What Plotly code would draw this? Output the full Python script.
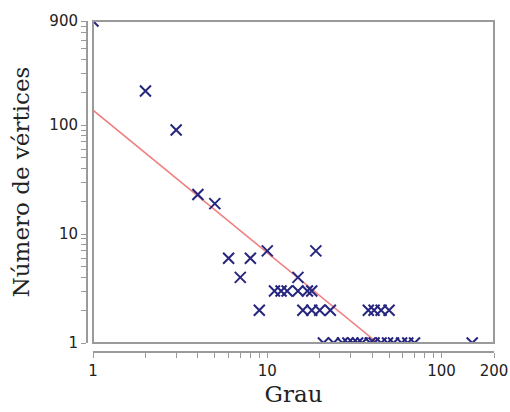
import plotly.graph_objects as go
import math

# Data (degree vs number of vertices)
grau = [1, 2, 3, 4, 5, 6, 7, 8, 9, 10, 19, 15,
        11, 12, 13, 15, 17, 18,
        16, 18, 20, 23, 38, 41, 45, 50,
        21, 24, 27, 29, 31, 33, 35, 39, 41, 45, 49, 53, 59, 64, 70, 150]
vertices = [900, 205, 90, 23, 19, 6, 4, 6, 2, 7, 7, 4,
            3, 3, 3, 3, 3, 3,
            2, 2, 2, 2, 2, 2, 2, 2,
            1, 1, 1, 1, 1, 1, 1, 1, 1, 1, 1, 1, 1, 1, 1, 1]

# Fitted power-law line
fit_x = [1, 43]
fit_y = [137, 1]

x_tick_vals = [1, 2, 3, 4, 5, 6, 7, 8, 9, 10, 20, 30, 40, 50, 60, 70, 80, 90, 100, 200]
x_tick_text = ["1", "", "", "", "", "", "", "", "", "10", "", "", "", "", "", "", "", "", "100", "200"]
y_tick_vals = [1, 2, 3, 4, 5, 6, 7, 8, 9, 10, 20, 30, 40, 50, 60, 70, 80, 90, 100,
               200, 300, 400, 500, 600, 700, 800, 900]
y_tick_text = ["1", "", "", "", "", "", "", "", "", "10", "", "", "", "", "", "", "", "", "100",
               "", "", "", "", "", "", "", "900"]

navy = "#26267f"
grey = "#9a9a9a"

fig = go.Figure()
fig.add_trace(go.Scatter(x=fit_x, y=fit_y, mode="lines",
                         line=dict(color="#f08080", width=1.6), showlegend=False))
fig.add_trace(go.Scatter(x=grau, y=vertices, mode="markers",
                         marker=dict(symbol="x-thin", size=11,
                                     line=dict(width=2, color=navy)),
                         showlegend=False))

fig.add_shape(type="rect", xref="x domain", yref="y domain", x0=0, x1=1, y0=0, y1=1,
              line=dict(color=grey, width=2), layer="above")

tick_font = dict(family="DejaVu Sans", size=15, color="#222")
title_font = dict(family="DejaVu Serif", size=23, color="#222")

fig.update_layout(
    width=510, height=412,
    margin=dict(l=87, r=16, t=21, b=60, autoexpand=False),
    paper_bgcolor="white", plot_bgcolor="white",
    xaxis=dict(type="log", range=[0, math.log10(200)], domain=[6/407, 1],
               anchor="free", position=0, automargin=False,
               showline=True, linecolor=grey, linewidth=2,
               ticks="outside", ticklen=5, tickcolor=grey, tickwidth=1,
               tickvals=x_tick_vals, ticktext=x_tick_text, tickfont=tick_font,
               showgrid=False, zeroline=False,
               title=dict(text="Grau", font=title_font, standoff=6)),
    yaxis=dict(type="log", range=[0, math.log10(900)], domain=[9/331, 1],
               anchor="free", position=0, automargin=False,
               showline=True, linecolor=grey, linewidth=2,
               ticks="outside", ticklen=5, tickcolor=grey, tickwidth=1,
               tickvals=y_tick_vals, ticktext=y_tick_text, tickfont=tick_font,
               showgrid=False, zeroline=False,
               title=dict(text="Número de vértices", font=title_font, standoff=12)),
)

fig.write_html("out.html")
